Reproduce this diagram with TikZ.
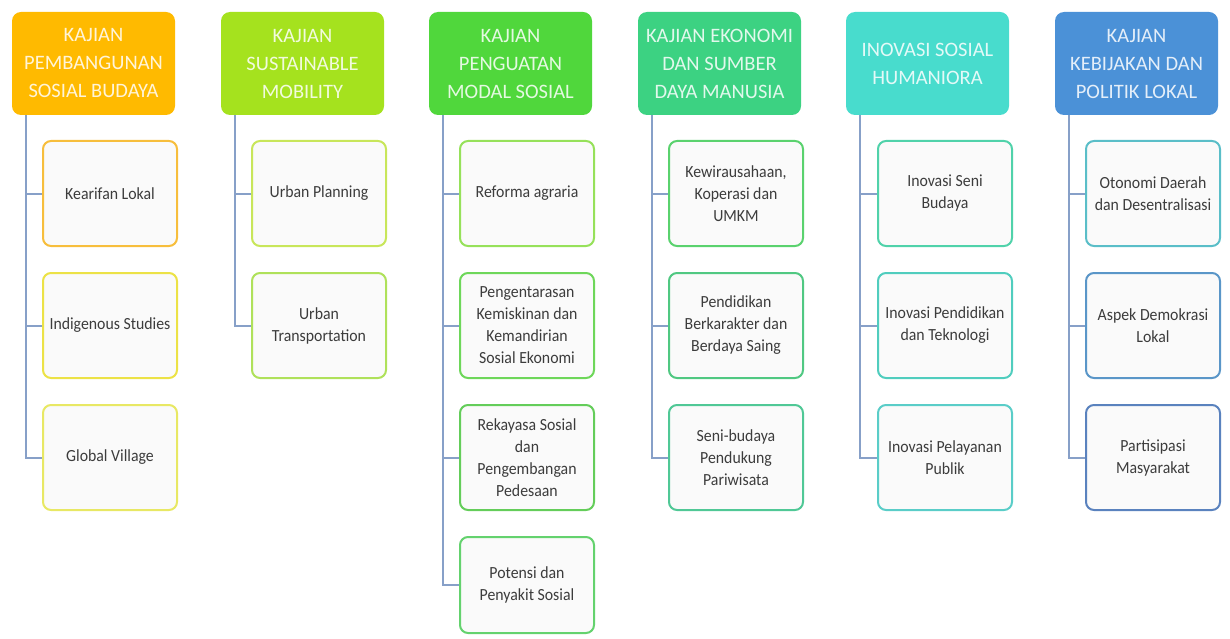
\documentclass[tikz,border=0pt]{standalone}
\usepackage{fontspec}
\setmainfont{Carlito}
\newfontfamily\boxfont{Carlito}[FakeStretch=0.93]

\definecolor{hdone}{RGB}{255,186,0}
\definecolor{hdtwo}{RGB}{165,226,30}
\definecolor{hdthree}{RGB}{80,215,60}
\definecolor{hdfour}{RGB}{60,210,130}
\definecolor{hdfive}{RGB}{72,220,205}
\definecolor{hdsix}{RGB}{75,145,215}
\definecolor{trunk}{RGB}{135,160,200}
\definecolor{boxtext}{RGB}{60,60,60}

\begin{document}
\begin{tikzpicture}[x=1pt,y=-1pt]
	\tikzstyle{head}=[rectangle,rounded corners=9pt,minimum width=163pt,minimum height=103pt,inner sep=2pt,align=center,text=white,text opacity=0.85,font=\fontsize{20.5}{28}\selectfont]
	\tikzstyle{sub}=[rectangle,rounded corners=8pt,line width=2pt,fill=white!98!black,minimum width=134pt,minimum height=105pt,inner sep=2pt,align=center,text=boxtext,font=\boxfont\fontsize{17}{22}\selectfont]
	\tikzstyle{edge}=[draw=trunk, line width=2pt]

	\useasboundingbox (0,0) rectangle (1230,639);

	% headers
	\node [head,fill=hdone]   (h1) at (93.5,63.5)   {KAJIAN\\PEMBANGUNAN\\SOSIAL BUDAYA};
	\node [head,fill=hdtwo]   (h2) at (302.5,63.5)  {KAJIAN\\SUSTAINABLE\\MOBILITY};
	\node [head,fill=hdthree] (h3) at (510.5,63.5)  {KAJIAN\\PENGUATAN\\MODAL SOSIAL};
	\node [head,fill=hdfour]  (h4) at (719.5,63.5)  {KAJIAN EKONOMI\\DAN SUMBER\\DAYA MANUSIA};
	\node [head,fill=hdfive]  (h5) at (927.5,63.5)  {INOVASI SOSIAL\\HUMANIORA};
	\node [head,fill=hdsix]   (h6) at (1136.5,63.5) {KAJIAN\\KEBIJAKAN DAN\\POLITIK LOKAL};

	% column 1
	\node [sub,draw={rgb,255:red,247;green,190;blue,60}]  (c11) at (110,193.5) {Kearifan Lokal};
	\node [sub,draw={rgb,255:red,236;green,226;blue,70}]  (c12) at (110,325.5) {Indigenous Studies};
	\node [sub,draw={rgb,255:red,232;green,232;blue,100}] (c13) at (110,457.5) {Global Village};

	% column 2
	\node [sub,draw={rgb,255:red,200;green,230;blue,90}] (c21) at (319,193.5) {Urban Planning};
	\node [sub,draw={rgb,255:red,175;green,225;blue,90}] (c22) at (319,325.5) {Urban\\Transportation};

	% column 3
	\node [sub,draw={rgb,255:red,150;green,225;blue,90}]  (c31) at (527,193.5) {Reforma agraria};
	\node [sub,draw={rgb,255:red,110;green,215;blue,90}]  (c32) at (527,325.5) {Pengentarasan\\Kemiskinan dan\\Kemandirian\\Sosial Ekonomi};
	\node [sub,draw={rgb,255:red,100;green,205;blue,90}]  (c33) at (527,457.5) {Rekayasa Sosial\\dan\\Pengembangan\\Pedesaan};
	\node [sub,draw={rgb,255:red,100;green,210;blue,110},minimum height=96pt] (c34) at (527,585) {Potensi dan\\Penyakit Sosial};

	% column 4
	\node [sub,draw={rgb,255:red,90;green,210;blue,110}] (c41) at (736,193.5) {Kewirausahaan,\\Koperasi dan\\UMKM};
	\node [sub,draw={rgb,255:red,80;green,200;blue,130}] (c42) at (736,325.5) {Pendidikan\\Berkarakter dan\\Berdaya Saing};
	\node [sub,draw={rgb,255:red,80;green,200;blue,150}] (c43) at (736,457.5) {Seni-budaya\\Pendukung\\Pariwisata};

	% column 5
	\node [sub,draw={rgb,255:red,80;green,210;blue,170}] (c51) at (945,193.5) {Inovasi Seni\\Budaya};
	\node [sub,draw={rgb,255:red,80;green,205;blue,190}] (c52) at (945,325.5) {Inovasi Pendidikan\\dan Teknologi};
	\node [sub,draw={rgb,255:red,90;green,205;blue,200}] (c53) at (945,457.5) {Inovasi Pelayanan\\Publik};

	% column 6
	\node [sub,draw={rgb,255:red,90;green,190;blue,200}] (c61) at (1153,193.5) {Otonomi Daerah\\dan Desentralisasi};
	\node [sub,draw={rgb,255:red,90;green,150;blue,200}] (c62) at (1153,325.5) {Aspek Demokrasi\\Lokal};
	\node [sub,draw={rgb,255:red,90;green,130;blue,190}] (c63) at (1153,457.5) {Partisipasi\\Masyarakat};

	% connectors
	\path[edge] ([xshift=14.5pt]h1.south west) |- (c11.west);
	\path[edge] ([xshift=14.5pt]h1.south west) |- (c12.west);
	\path[edge] ([xshift=14.5pt]h1.south west) |- (c13.west);

	\path[edge] ([xshift=14.5pt]h2.south west) |- (c21.west);
	\path[edge] ([xshift=14.5pt]h2.south west) |- (c22.west);

	\path[edge] ([xshift=14.5pt]h3.south west) |- (c31.west);
	\path[edge] ([xshift=14.5pt]h3.south west) |- (c32.west);
	\path[edge] ([xshift=14.5pt]h3.south west) |- (c33.west);
	\path[edge] ([xshift=14.5pt]h3.south west) |- (c34.west);

	\path[edge] ([xshift=14.5pt]h4.south west) |- (c41.west);
	\path[edge] ([xshift=14.5pt]h4.south west) |- (c42.west);
	\path[edge] ([xshift=14.5pt]h4.south west) |- (c43.west);

	\path[edge] ([xshift=14.5pt]h5.south west) |- (c51.west);
	\path[edge] ([xshift=14.5pt]h5.south west) |- (c52.west);
	\path[edge] ([xshift=14.5pt]h5.south west) |- (c53.west);

	\path[edge] ([xshift=14.5pt]h6.south west) |- (c61.west);
	\path[edge] ([xshift=14.5pt]h6.south west) |- (c62.west);
	\path[edge] ([xshift=14.5pt]h6.south west) |- (c63.west);

\end{tikzpicture}
\end{document}
